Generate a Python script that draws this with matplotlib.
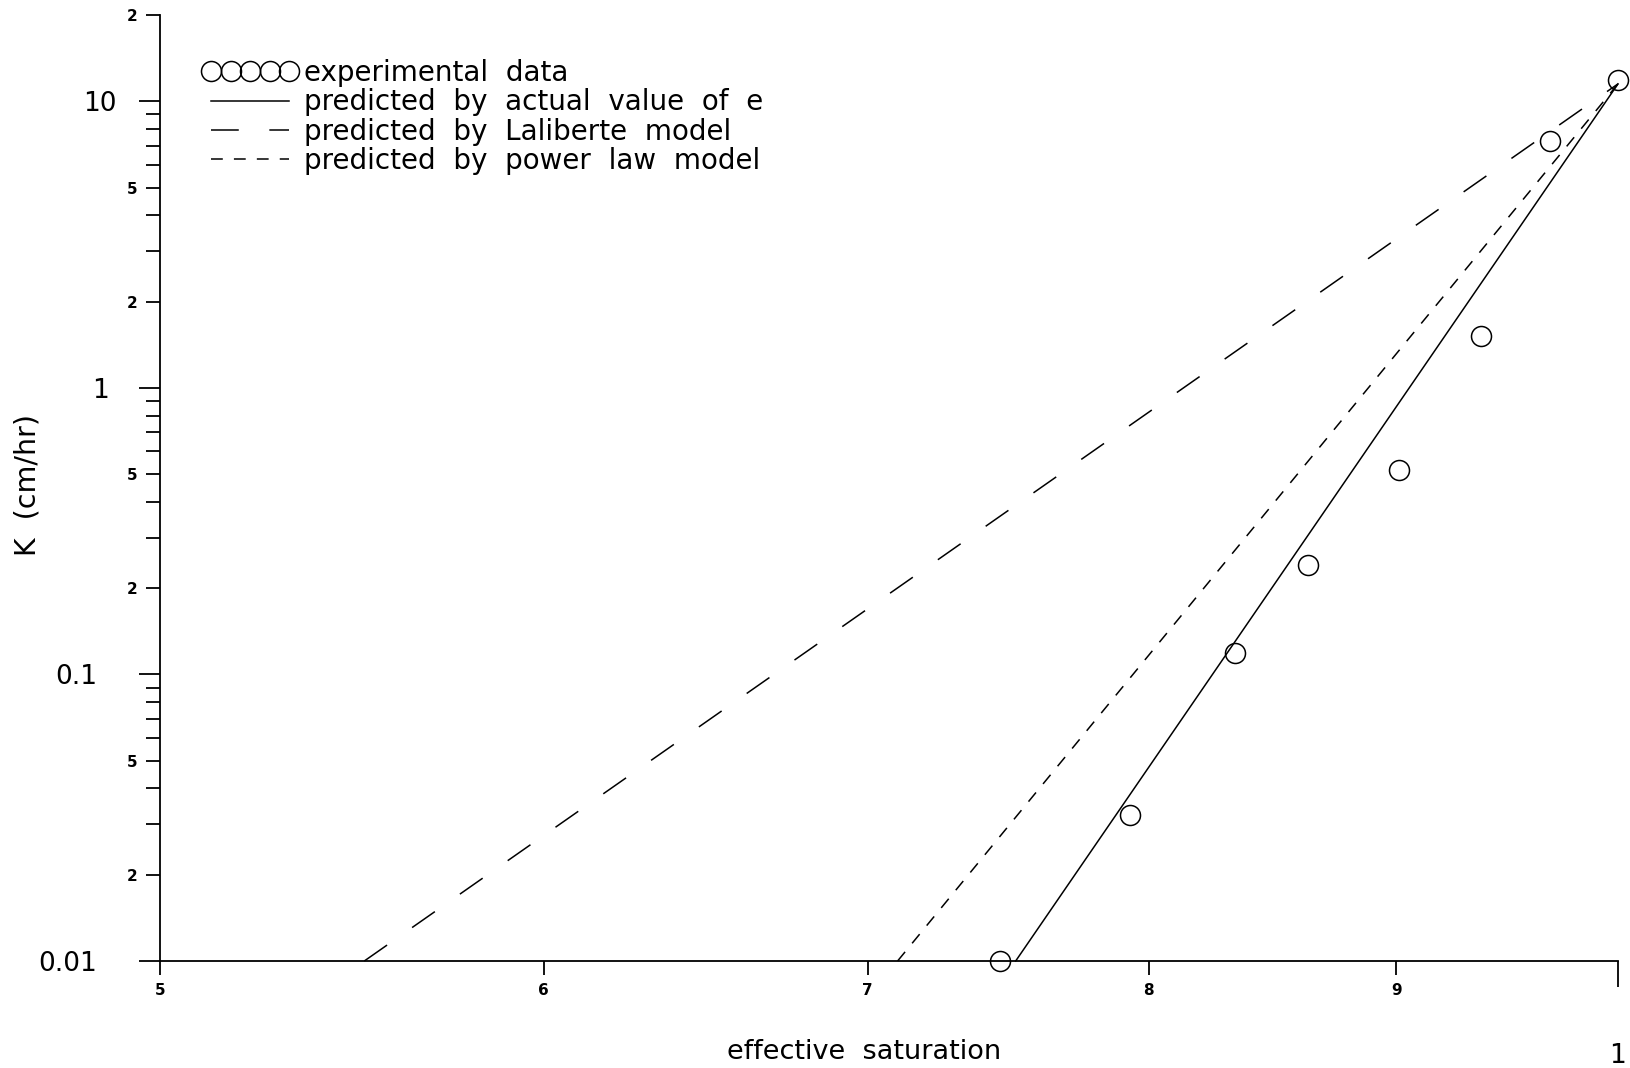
import matplotlib
matplotlib.use("Agg")
import matplotlib.pyplot as plt
from matplotlib.lines import Line2D

plt.rcParams["font.family"] = ["DejaVu Sans"]
plt.rcParams["lines.scale_dashes"] = False

# Measured conductivity vs effective saturation
sat_obs = [0.7455, 0.793, 0.8334, 0.863, 0.9011, 0.9369, 0.9684, 1.0]
k_obs = [0.01, 0.0323, 0.1188, 0.2408, 0.5165, 1.516, 7.25, 11.9]

# Model predictions (straight lines on log-log axes, end points)
sat_actual = [0.751, 1.0]
k_actual = [0.01, 11.5]
sat_laliberte = [0.551, 1.0]
k_laliberte = [0.01, 11.5]
sat_power = [0.710, 1.0]
k_power = [0.01, 11.5]

x_major = [1.0]
x_major_labels = ["1"]
x_minor = [0.5, 0.6, 0.7, 0.8, 0.9]
x_minor_labels = ["5", "6", "7", "8", "9"]

y_major = [0.01, 0.1, 1, 10]
y_major_labels = ["0.01", "0.1", "1", "10"]
y_major_pads = [30, 30, 21.5, 16.5]
y_minor_mult = [2, 3, 4, 5, 6, 7, 8, 9]
y_minor = [m * d for d in [0.01, 0.1, 1] for m in y_minor_mult] + [20]
y_minor_labels = [str(m) if m in (2, 5) else ""
                  for d in [0.01, 0.1, 1] for m in y_minor_mult] + ["2"]

W, H = 1631, 1068
fig = plt.figure(figsize=(W / 100, H / 100), dpi=100)
ax = fig.add_axes([160 / W, 1 - 961 / H, (1618 - 160) / W, (961 - 15) / H])
ax.set_xscale("log")
ax.set_yscale("log")
ax.set_xlim(0.5, 1.0)
ax.set_ylim(0.01, 20)

lw = 1.1
dash_long = (0, (20, 22))
dash_short = (0, (8.5, 8))
ax.plot(sat_obs, k_obs, ls="none", marker="o", ms=14.4, mfc="none",
        mec="black", mew=lw, clip_on=False, zorder=3)
ax.plot(sat_actual, k_actual, color="black", lw=lw, clip_on=False)
ax.plot(sat_laliberte, k_laliberte, color="black", lw=lw, ls=dash_long,
        clip_on=False)
ax.plot(sat_power, k_power, color="black", lw=lw, ls=dash_short,
        clip_on=False)

for side in ["top", "right"]:
    ax.spines[side].set_visible(False)
for side in ["left", "bottom"]:
    ax.spines[side].set_linewidth(1.3)

ax.set_xticks(x_major, x_major_labels)
ax.set_xticks(x_minor, x_minor_labels, minor=True)
ax.set_yticks(y_major, y_major_labels)
ax.set_yticks(y_minor, y_minor_labels, minor=True)

ax.tick_params(axis="x", which="major", length=19, width=1.3, pad=40,
               labelsize=19)
ax.tick_params(axis="x", which="minor", length=10, width=1.3, pad=6,
               labelsize=11)
ax.tick_params(axis="y", which="major", length=15, width=1.3, labelsize=19)
ax.tick_params(axis="y", which="minor", length=10, width=1.3, pad=6,
               labelsize=11)
for tick, pad in zip(ax.yaxis.get_major_ticks(), y_major_pads):
    tick.set_pad(pad)
for lab in ax.get_xticklabels(minor=True) + ax.get_yticklabels(minor=True):
    lab.set_fontweight("bold")

fig.text(864 / W, 1 - 1052 / H, "effective  saturation", fontsize=19.5,
         ha="center", va="center")
fig.text(28 / W, 1 - 485 / H, "K  (cm/hr)", fontsize=20.5, rotation=90,
         ha="center", va="center")

handles = [
    Line2D([], [], ls="none", marker="o", ms=14.4, mfc="none", mec="black", mew=lw),
    Line2D([], [], color="black", lw=lw),
    Line2D([], [], color="black", lw=lw, ls=dash_long),
    Line2D([], [], color="black", lw=lw, ls=dash_short),
]
labels = [
    "experimental  data",
    "predicted  by  actual  value  of  e",
    "predicted  by  Laliberte  model",
    "predicted  by  power  law  model",
]
fig.legend(handles, labels, loc="upper left",
           bbox_to_anchor=(203 / W, 1 - 59 / H), numpoints=5,
           frameon=False, fontsize=20, borderpad=0, borderaxespad=0,
           handlelength=3.4, handletextpad=0.25, labelspacing=0.05)

fig.savefig("out.png", dpi=100, facecolor="white")
